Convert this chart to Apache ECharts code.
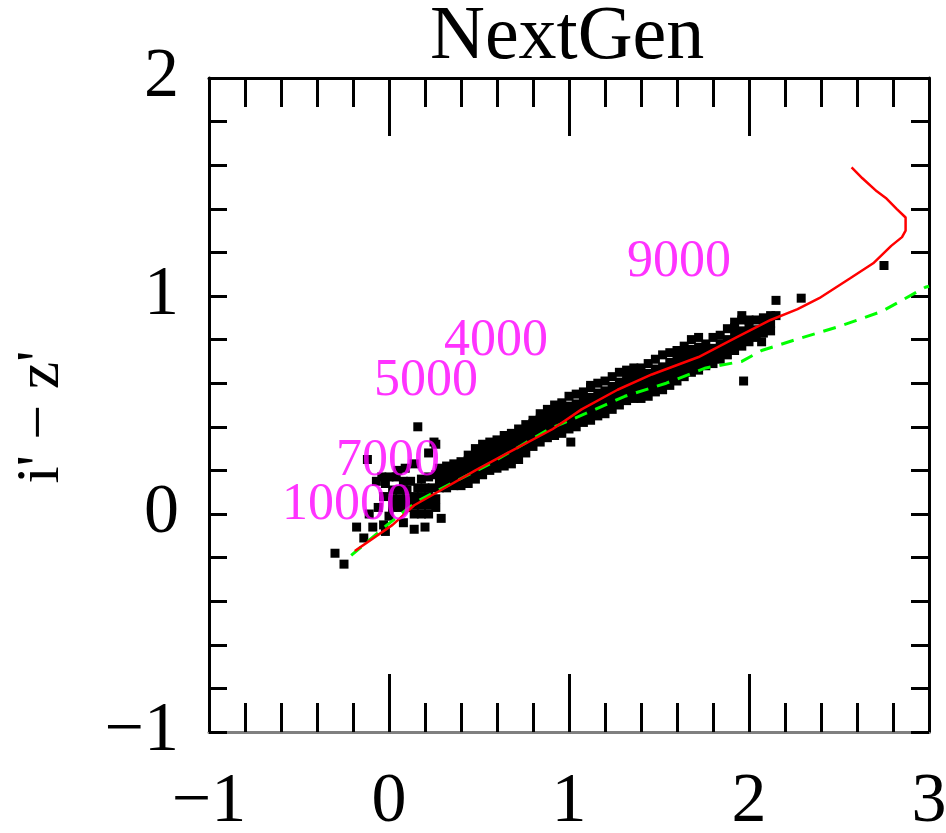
<!DOCTYPE html>
<html>
<head>
<meta charset="utf-8">
<script src="https://cdn.jsdelivr.net/npm/echarts@6/dist/echarts.min.js"></script>
<style>html,body{margin:0;padding:0;background:#fff;}#c{width:946px;height:833px;}</style>
</head>
<body>
<div id="c"></div>
<script>
// ---- data ----
const xTicks = [-1, 0, 1, 2, 3];
const yTicks = [-1, 0, 1, 2];
const labelNames = ['10000', '7000', '5000', '4000', '9000'];
const labelX = [-0.594, -0.294, -0.083, 0.306, 1.322];
const labelY = [0.041, 0.243, 0.61, 0.79, 1.156];

// NextGen model track (red)
const redX = [-0.19, 0.02, 0.14, 0.29, 0.48, 0.66, 0.91, 1.07, 1.27, 1.46, 1.72, 1.93, 2.12, 2.27, 2.39, 2.56, 2.69, 2.79, 2.85, 2.87, 2.87, 2.82, 2.76, 2.71, 2.63, 2.57];
const redY = [-0.17, -0.05, 0.04, 0.11, 0.20, 0.28, 0.39, 0.48, 0.57, 0.64, 0.72, 0.81, 0.89, 0.94, 0.99, 1.08, 1.15, 1.23, 1.27, 1.30, 1.36, 1.40, 1.45, 1.48, 1.54, 1.59];

// comparison track (green, dashed)
const greenX = [-0.21, -0.01, 0.16, 0.37, 0.56, 0.89, 1.09, 1.31, 1.54, 1.76, 1.96, 2.07, 2.26, 2.50, 2.74, 2.98, 3.0];
const greenY = [-0.19, -0.05, 0.06, 0.15, 0.23, 0.39, 0.46, 0.54, 0.60, 0.67, 0.70, 0.75, 0.80, 0.86, 0.93, 1.04, 1.045];

// observed stars (black) [x, y]
const stars = [
[0.28,0.12],[0.28,0.155],[0.28,0.19],[0.28,0.21],
[0.32,0.12],[0.32,0.155],[0.32,0.19],[0.32,0.22],
[0.36,0.13],[0.36,0.165],[0.36,0.20],[0.36,0.23],
[0.40,0.13],[0.40,0.165],[0.40,0.20],[0.40,0.24],
[0.44,0.14],[0.44,0.175],[0.44,0.21],[0.44,0.245],[0.44,0.27],
[0.48,0.16],[0.48,0.195],[0.48,0.23],[0.48,0.265],[0.48,0.30],
[0.52,0.18],[0.52,0.215],[0.52,0.25],[0.52,0.285],[0.52,0.32],
[0.56,0.20],[0.56,0.235],[0.56,0.27],[0.56,0.305],[0.56,0.33],
[0.60,0.21],[0.60,0.245],[0.60,0.28],[0.60,0.315],[0.60,0.34],
[0.64,0.22],[0.64,0.255],[0.64,0.29],[0.64,0.325],[0.64,0.36],
[0.68,0.23],[0.68,0.265],[0.68,0.30],[0.68,0.335],[0.68,0.37],
[0.72,0.25],[0.72,0.285],[0.72,0.32],[0.72,0.355],[0.72,0.39],
[0.76,0.28],[0.76,0.315],[0.76,0.35],[0.76,0.385],[0.76,0.41],
[0.80,0.31],[0.80,0.345],[0.80,0.38],[0.80,0.415],[0.80,0.43],
[0.84,0.33],[0.84,0.365],[0.84,0.40],[0.84,0.435],[0.84,0.46],
[0.88,0.35],[0.88,0.385],[0.88,0.42],[0.88,0.455],[0.88,0.48],
[0.92,0.36],[0.92,0.395],[0.92,0.43],[0.92,0.465],[0.92,0.50],
[0.96,0.37],[0.96,0.405],[0.96,0.44],[0.96,0.475],[0.96,0.51],
[1.00,0.39],[1.00,0.425],[1.00,0.46],[1.00,0.495],[1.00,0.54],
[1.04,0.40],[1.04,0.435],[1.04,0.47],[1.04,0.505],[1.04,0.55],
[1.08,0.42],[1.08,0.455],[1.08,0.49],[1.08,0.525],[1.08,0.56],
[1.12,0.43],[1.12,0.465],[1.12,0.50],[1.12,0.535],[1.12,0.58],
[1.16,0.45],[1.16,0.485],[1.16,0.52],[1.16,0.555],[1.16,0.60],
[1.20,0.46],[1.20,0.495],[1.20,0.53],[1.20,0.565],[1.20,0.61],
[1.24,0.48],[1.24,0.515],[1.24,0.55],[1.24,0.585],[1.24,0.63],
[1.28,0.50],[1.28,0.535],[1.28,0.57],[1.28,0.605],[1.28,0.65],
[1.32,0.52],[1.32,0.555],[1.32,0.59],[1.32,0.625],[1.32,0.66],
[1.36,0.53],[1.36,0.565],[1.36,0.60],[1.36,0.635],[1.36,0.67],
[1.40,0.53],[1.40,0.565],[1.40,0.60],[1.40,0.635],[1.40,0.67],
[1.44,0.54],[1.44,0.575],[1.44,0.61],[1.44,0.645],[1.44,0.69],
[1.48,0.56],[1.48,0.595],[1.48,0.63],[1.48,0.665],[1.48,0.71],
[1.52,0.57],[1.52,0.605],[1.52,0.64],[1.52,0.675],[1.52,0.73],
[1.56,0.59],[1.56,0.625],[1.56,0.66],[1.56,0.695],[1.56,0.74],
[1.60,0.61],[1.60,0.645],[1.60,0.68],[1.60,0.715],[1.60,0.75],
[1.64,0.63],[1.64,0.665],[1.64,0.70],[1.64,0.735],[1.64,0.77],
[1.68,0.65],[1.68,0.685],[1.68,0.72],[1.68,0.755],[1.68,0.80],
[1.72,0.66],[1.72,0.695],[1.72,0.73],[1.72,0.765],[1.72,0.81],
[1.76,0.68],[1.76,0.715],[1.76,0.75],[1.76,0.78],
[1.80,0.69],[1.80,0.725],[1.80,0.76],[1.80,0.81],
[1.84,0.71],[1.84,0.745],[1.84,0.78],[1.84,0.82],
[1.88,0.73],[1.88,0.765],[1.88,0.80],[1.88,0.85],
[1.92,0.75],[1.92,0.785],[1.92,0.82],[1.92,0.855],[1.92,0.88],
[1.96,0.77],[1.96,0.805],[1.96,0.84],[1.96,0.89],
[2.00,0.79],[2.00,0.825],[2.00,0.86],[2.00,0.89],
[2.04,0.81],[2.04,0.845],[2.04,0.89],
[2.08,0.83],[2.08,0.865],[2.08,0.90],
[2.12,0.84],[2.12,0.875],[2.12,0.91],
[-0.04,0.17],[0.00,0.17],[0.04,0.17],[-0.07,0.15],[-0.02,0.14],[0.05,0.20],[0.09,0.21],
[0.14,0.23],[0.22,0.28],[0.26,0.32],[0.25,0.33],[-0.12,0.25],[0.16,0.40],
[0.02,0.03],[0.02,0.07],[0.02,0.11],[0.06,0.03],[0.06,0.07],[0.06,0.11],
[0.10,0.03],[0.10,0.07],[0.10,0.11],[0.08,0.15],[0.12,0.15],
[0.14,0.00],[0.14,0.04],[0.14,0.08],[0.18,0.00],[0.18,0.04],[0.18,0.08],
[0.22,0.00],[0.22,0.04],[0.22,0.08],[0.26,0.03],[0.26,0.07],[0.16,0.12],
[0.20,0.12],[0.24,0.12],[0.18,0.16],[0.22,0.17],[0.26,0.18],
[-0.03,0.08],[-0.11,0.00],[-0.18,-0.06],[-0.14,-0.11],[-0.09,-0.06],[-0.02,-0.08],
[-0.03,-0.05],[0.08,-0.04],[0.14,-0.07],[0.20,-0.06],[0.29,-0.02],[-0.30,-0.18],
[-0.25,-0.23],[-0.06,0.03],[0.00,-0.01],
[1.01,0.33],[1.12,0.59],[2.29,0.99],[2.15,0.98],[1.96,0.91],[2.07,0.79],[1.97,0.61],
[2.75,1.14],[2.15,0.91]
];

// ---- chart ----
const SERIF = 'Liberation Serif';
const fmt = v => (v < 0 ? '\u2212' + Math.abs(v) : String(v));
const isInt = v => Math.abs(v - Math.round(v)) < 1e-6;

const chart = echarts.init(document.getElementById('c'), null, {renderer: 'canvas'});

const xCommon = {
  type: 'value', min: xTicks[0], max: xTicks[xTicks.length - 1], interval: 1,
  splitLine: {show: false},
  axisTick: {show: true, inside: true, length: 58, lineStyle: {color: '#000', width: 3}},
  minorTick: {show: true, splitNumber: 5, length: 29, lineStyle: {color: '#000', width: 3}},
  minorSplitLine: {show: false}
};
const yCommon = {
  type: 'value', min: yTicks[0], max: yTicks[yTicks.length - 1], interval: 0.2,
  splitLine: {show: false},
  axisTick: {show: true, inside: true, length: 18, lineStyle: {color: '#000', width: 3}}
};

chart.setOption({
  animation: false,
  backgroundColor: '#fff',
  title: {
    text: 'NextGen', left: 430, top: 0, padding: 0,
    textStyle: {fontFamily: SERIF, fontSize: 76, fontWeight: 'normal', color: '#000'}
  },
  grid: {left: 209, right: 17, top: 78, bottom: 101, containLabel: false, outerBoundsMode: 'none'},
  xAxis: [
    Object.assign({}, xCommon, {
      position: 'bottom',
      axisLine: {show: true, onZero: false, lineStyle: {color: '#808080', width: 3}},
      axisLabel: {show: true, margin: 36, fontFamily: SERIF, fontSize: 70, color: '#000',
        formatter: v => fmt(v)}
    }),
    Object.assign({}, xCommon, {
      position: 'top',
      axisLine: {show: true, onZero: false, lineStyle: {color: '#000', width: 3}},
      axisLabel: {show: false}
    })
  ],
  yAxis: [
    Object.assign({}, yCommon, {
      position: 'left',
      axisLine: {show: true, onZero: false, lineStyle: {color: '#000', width: 3}},
      axisLabel: {show: true, margin: 30, fontFamily: SERIF, fontSize: 70, color: '#000',
        showMinLabel: true, showMaxLabel: true,
        formatter: v => isInt(v) ? fmt(Math.round(v)) : ''}
    }),
    Object.assign({}, yCommon, {
      position: 'right',
      axisLine: {show: true, onZero: false, lineStyle: {color: '#000', width: 3}},
      axisLabel: {show: false}
    })
  ],
  graphic: [{
    type: 'text', x: 42, y: 417, rotation: Math.PI / 2,
    style: {text: "i' \u2212 z'", fontFamily: SERIF, fontSize: 62, fill: '#000',
      align: 'center', verticalAlign: 'middle'}
  }],
  series: [
    {
      type: 'scatter', xAxisIndex: 0, yAxisIndex: 0, z: 2,
      symbol: 'rect', symbolSize: 9,
      itemStyle: {color: '#000', opacity: 1},
      emphasis: {disabled: true},
      data: stars
    },
    {
      type: 'line', xAxisIndex: 0, yAxisIndex: 0, z: 3,
      showSymbol: false, symbol: 'none', smooth: false,
      lineStyle: {color: '#00ff00', width: 3, type: [13, 9]},
      data: greenX.map((x, i) => [x, greenY[i]])
    },
    {
      type: 'line', xAxisIndex: 0, yAxisIndex: 0, z: 4,
      showSymbol: false, symbol: 'none', smooth: false,
      lineStyle: {color: '#ff0000', width: 2.5},
      data: redX.map((x, i) => [x, redY[i]])
    },
    {
      type: 'scatter', xAxisIndex: 0, yAxisIndex: 0, z: 5,
      symbolSize: 0, silent: true,
      label: {show: true, position: 'right', distance: 0, formatter: '{b}',
        color: '#ff00ff', fontFamily: SERIF, fontSize: 52},
      data: labelNames.map((n, i) => ({name: n, value: [labelX[i], labelY[i]]}))
    }
  ]
});
</script>
</body>
</html>
